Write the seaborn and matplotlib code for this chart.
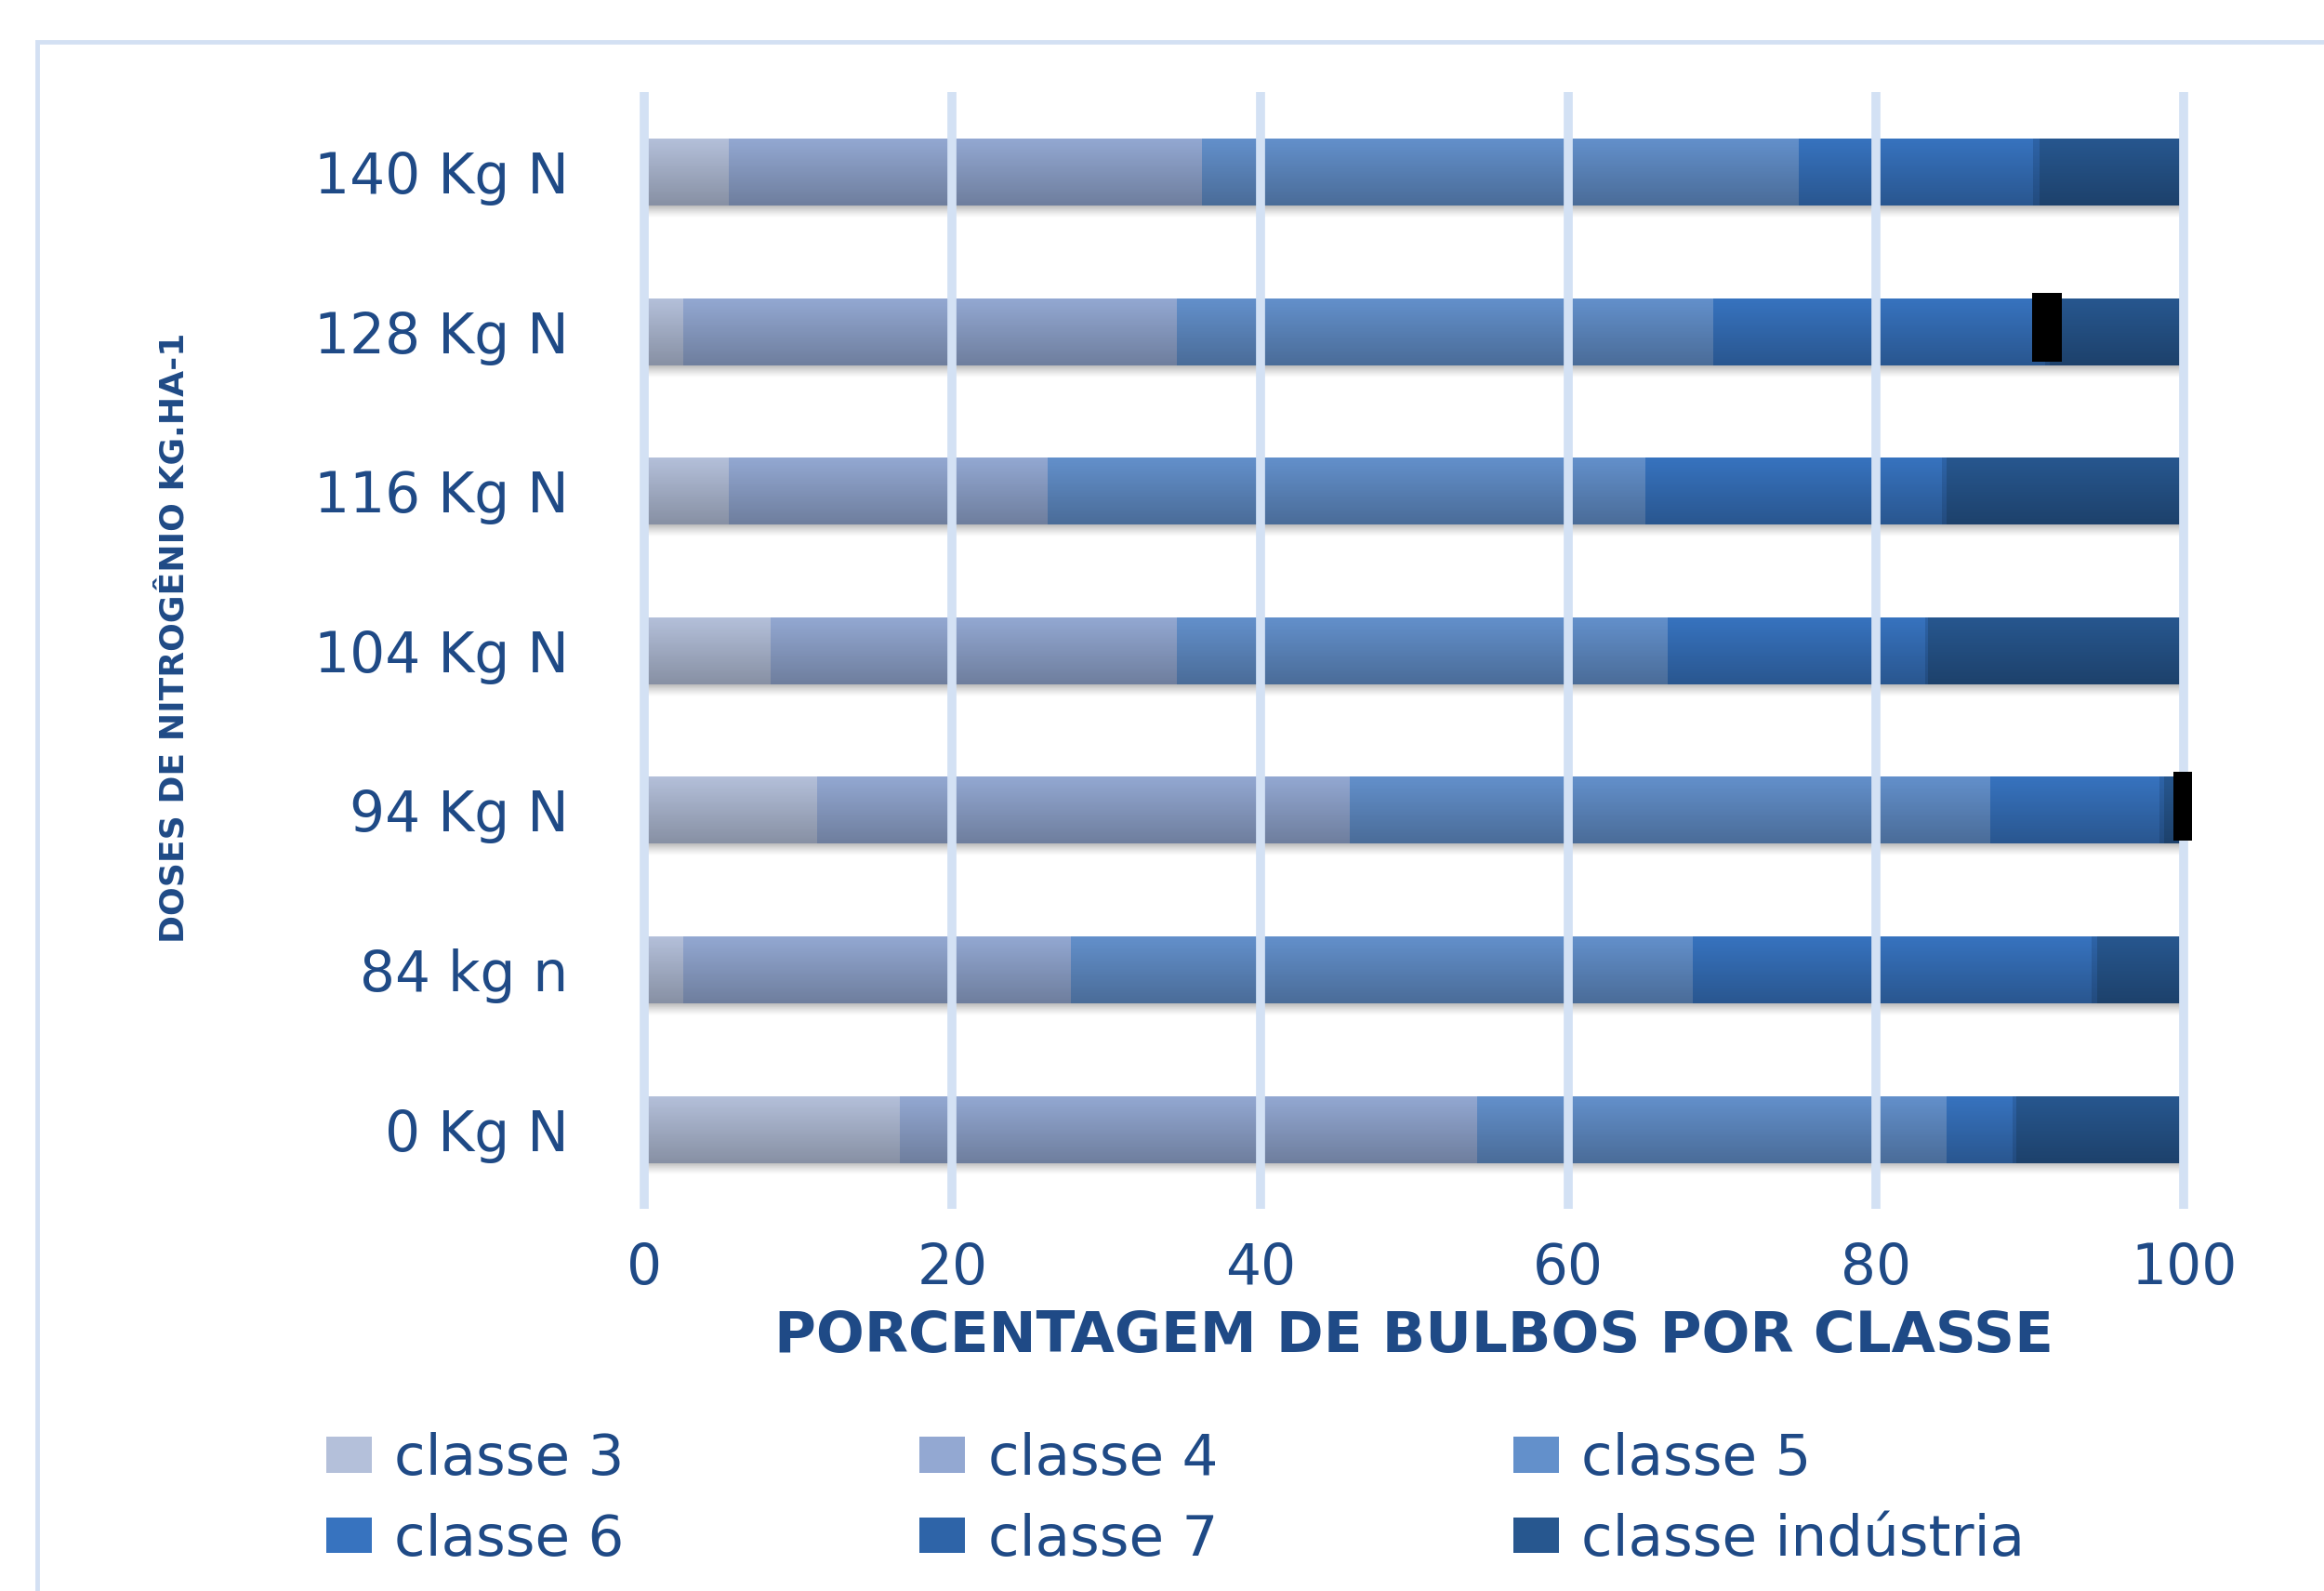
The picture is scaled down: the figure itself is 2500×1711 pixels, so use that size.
import numpy as np
import pandas as pd
import matplotlib
matplotlib.use("Agg")
import matplotlib.pyplot as plt
from matplotlib.patches import Rectangle
from matplotlib.colors import LinearSegmentedColormap
import seaborn as sns

# ---------------- data ----------------
categories = ['140 Kg N', '128 Kg N', '116 Kg N', '104 Kg N', '94 Kg N', '84 kg n', '0 Kg N']
classe_3 = [5.5, 2.5, 5.5, 8.2, 11.2, 2.5, 16.6]
classe_4 = [30.7, 32.1, 20.7, 26.4, 34.6, 25.2, 37.5]
classe_5 = [38.8, 34.8, 38.8, 31.9, 41.6, 40.4, 30.5]
classe_6 = [15.2, 21.6, 19.3, 16.7, 11.0, 25.9, 4.3]
classe_7 = [0.4, 0.3, 0.3, 0.2, 0.3, 0.4, 0.2]
classe_industria = [9.4, 8.7, 15.4, 16.6, 1.3, 5.6, 10.9]
class_names = ['classe 3', 'classe 4', 'classe 5', 'classe 6', 'classe 7', 'classe indústria']
marker_cats = ['128 Kg N', '94 Kg N']
marker_x = [91.1, 100.25]
x_ticks = [0, 20, 40, 60, 80, 100]

class_colors = ['#B4C0DA', '#93A8D2', '#6390CB', '#3773BF', '#2E64A8', '#27578F']
text_color = '#1F4A86'
grid_color = '#D3E1F4'

# ---------------- figure ----------------
sns.set_theme(style='white')
plt.rcParams['font.family'] = ['DejaVu Sans']

fig = plt.figure(figsize=(25, 17.11), dpi=100)
ax = fig.add_axes([0.274, 0.240, 0.669, 0.702])

df = pd.DataFrame({'dose': categories, 'classe 3': classe_3, 'classe 4': classe_4,
                   'classe 5': classe_5, 'classe 6': classe_6, 'classe 7': classe_7,
                   'classe indústria': classe_industria})
cum = df[class_names].cumsum(axis=1)

for name, color in reversed(list(zip(class_names, class_colors))):
    d = pd.DataFrame({'dose': df['dose'], 'val': cum[name]})
    sns.barplot(data=d, x='val', y='dose', order=categories, orient='h', color=color,
                saturation=1, width=0.42, errorbar=None, ax=ax, label=name,
                linewidth=0, edgecolor='none', zorder=2)
if ax.legend_ is not None:
    ax.legend_.remove()

# shading over each whole (outermost) bar: darker towards the bottom, soft shadow below
shade = LinearSegmentedColormap.from_list('shade', [(0, 0, 0, 0.0), (0, 0, 0, 0.25)])
shadow = LinearSegmentedColormap.from_list('shadow', [(0.55, 0.55, 0.55, 0.6), (0.7, 0.7, 0.7, 0.0)])
grad = np.linspace(0, 1, 64).reshape(-1, 1)
outer = list(ax.patches)[:len(categories)]
for p in outer:
    x0, y0 = p.get_x(), p.get_y()
    w, h = p.get_width(), p.get_height()
    ax.imshow(grad, cmap=shade, aspect='auto', extent=(x0, x0 + w, y0 + h, y0),
              origin='upper', zorder=2.1, interpolation='bilinear')
    ax.imshow(grad, cmap=shadow, aspect='auto', extent=(x0, x0 + w, y0 + h + 0.075, y0 + h),
              origin='upper', zorder=1.9, interpolation='bilinear')
ax.set_xlim(-0.5, 100.5)
ax.set_ylim(6.5, -0.5)

# black marks
idx = [categories.index(c) for c in marker_cats]
ax.barh([i - 0.025 for i in idx], width=1.9, left=[x - 0.95 for x in marker_x],
        height=0.43, color='black', linewidth=0, zorder=5)

ax.set_xticks(x_ticks)
ax.set_xticklabels([str(t) for t in x_ticks])
ax.set_xlabel('')
ax.set_ylabel('')
ax.set_axisbelow(False)
ax.grid(axis='x', color=grid_color, linewidth=7)
ax.grid(axis='y', visible=False)
for s in ax.spines.values():
    s.set_visible(False)
ax.tick_params(axis='x', length=0, labelsize=43, pad=25, colors=text_color)
ax.tick_params(axis='y', length=0, labelsize=43, pad=53, colors=text_color)

fig.text(0.6084, 0.1596, 'PORCENTAGEM DE BULBOS POR CLASSE', ha='center', va='center',
         fontsize=44, weight='bold', color=text_color)
fig.text(0.075, 0.599, 'DOSES DE NITROGÊNIO KG.HA-1', rotation=90, ha='center', va='center',
         fontsize=26, weight='bold', color=text_color)

handles, labels = ax.get_legend_handles_labels()
hmap = dict(zip(labels, handles))
order = ['classe 3', 'classe 6', 'classe 4', 'classe 7', 'classe 5', 'classe indústria']
fig.legend([hmap[o] for o in order], order, loc='upper left',
           bbox_to_anchor=(351 / 2500, 1 - 1540 / 1711), ncol=3, frameon=False,
           prop={'size': 44}, labelcolor=text_color,
           handlelength=0.8, handleheight=0.6, handletextpad=0.4,
           columnspacing=5.2, labelspacing=0.45, borderpad=0, borderaxespad=0)

fig.patches.append(Rectangle((40 / 2500, -0.1), 1.2, 0.1 + 1 - 45 / 1711,
                             transform=fig.transFigure, fill=False,
                             edgecolor='#D3E0F3', lw=3.5))

fig.savefig('out.png', dpi=100, facecolor='white')
